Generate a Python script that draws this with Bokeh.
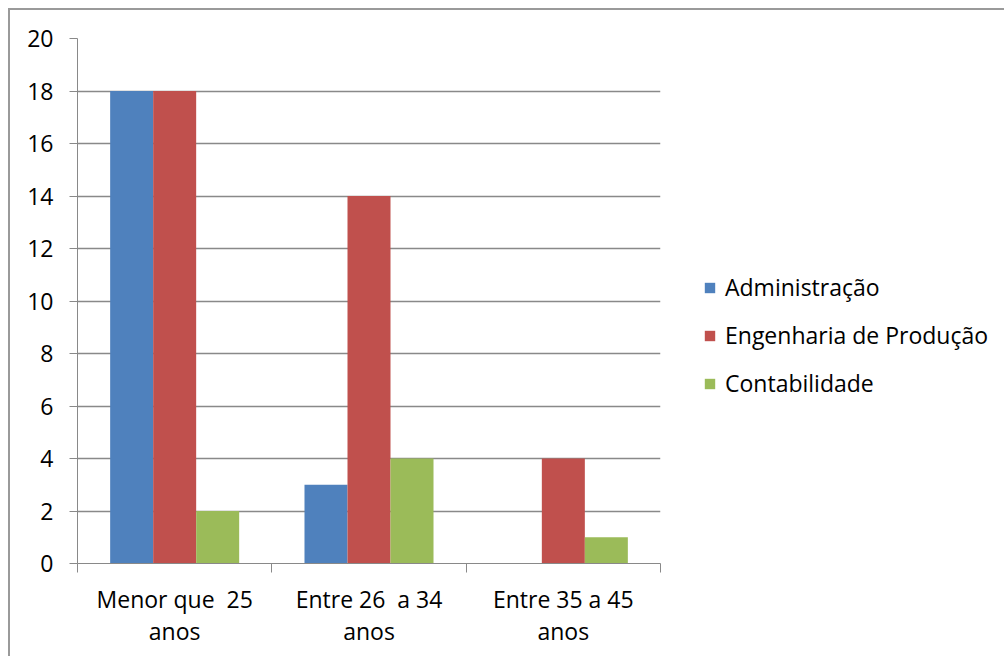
from bokeh.plotting import figure
from bokeh.models import (ColumnDataSource, Range1d, FixedTicker,
                          Legend, LegendItem)
from bokeh.transform import dodge
from bokeh.embed import file_html
from bokeh.resources import INLINE

# Age brackets (x categories) and the three courses (series)
categories = ["Menor que \u00a025\nanos", "Entre 26 \u00a0a 34\nanos", "Entre 35 a 45\nanos"]
series_names = ["Administração", "Engenharia de Produção", "Contabilidade"]
administracao = [18, 3, 0]
engenharia = [18, 14, 4]
contabilidade = [2, 4, 1]
y_ticks = [0, 2, 4, 6, 8, 10, 12, 14, 16, 18, 20]

colors = ["#4F81BD", "#C0504D", "#9BBB59"]
FONT = "Open Sans"
FONT_SIZE = "23px"
GRAY = "#898989"

# each category occupies one unit on the x axis, centred at i + 0.5
centers = [i + 0.5 for i in range(len(categories))]
edges = list(range(len(categories) + 1))

source = ColumnDataSource(dict(
    x=centers,
    adm=administracao,
    eng=engenharia,
    cont=contabilidade,
))

p = figure(
    x_range=Range1d(0, len(categories)),
    y_range=Range1d(0, 20),
    frame_width=583, frame_height=525,
    output_backend="svg",
    toolbar_location=None,
    min_border_left=67, min_border_right=10,
    min_border_top=28, min_border_bottom=93,
)
p.outline_line_color = None
p.background_fill_color = "white"
p.border_fill_color = "white"
p.styles = {"margin-left": "8px", "margin-top": "8px",
            "border-left": "2px solid #9a9a9a", "border-top": "2px solid #9a9a9a"}

bar_w = 0.2213
cols = ["adm", "eng", "cont"]
offsets = [-bar_w, 0, bar_w]
renderers = []
for col, off, c in zip(cols, offsets, colors):
    r = p.vbar(x=dodge("x", off), top=col, width=bar_w,
               source=source, fill_color=c, line_color=None)
    renderers.append(r)

# y axis and horizontal gridlines
yaxis = p.yaxis[0]
yaxis.ticker = FixedTicker(ticks=y_ticks)
yaxis.axis_line_color = GRAY
yaxis.major_tick_line_color = GRAY
yaxis.major_tick_out = 8
yaxis.major_tick_in = 0
yaxis.minor_tick_line_color = None
yaxis.major_label_text_font = FONT
yaxis.major_label_text_font_size = FONT_SIZE
yaxis.major_label_text_color = "black"
yaxis.major_label_standoff = 16
p.ygrid.grid_line_color = GRAY
p.ygrid.grid_line_width = 1.3
p.xgrid.grid_line_color = None

# x axis: category names at the centres, boundary ticks between them
xaxis = p.xaxis[0]
xaxis.ticker = FixedTicker(ticks=centers, minor_ticks=edges)
xaxis.major_label_overrides = {c: name for c, name in zip(centers, categories)}
xaxis.axis_line_color = GRAY
xaxis.major_tick_line_color = None
xaxis.minor_tick_line_color = GRAY
xaxis.minor_tick_out = 9
xaxis.minor_tick_in = 0
xaxis.major_label_text_font = FONT
xaxis.major_label_text_font_size = FONT_SIZE
xaxis.major_label_text_color = "black"
xaxis.major_label_text_line_height = 1.0
xaxis.major_label_standoff = 10

legend = Legend(
    items=[LegendItem(label=n, renderers=[r]) for n, r in zip(series_names, renderers)],
    location=(43, 164),
    glyph_width=13, glyph_height=13, label_standoff=9,
    label_height=26, spacing=16, padding=0, margin=0,
    border_line_color=None, background_fill_alpha=0,
    label_text_font=FONT, label_text_font_size=FONT_SIZE,
    label_text_color="black",
)
p.add_layout(legend, "right")

open("out.html", "w").write(file_html(p, INLINE))
